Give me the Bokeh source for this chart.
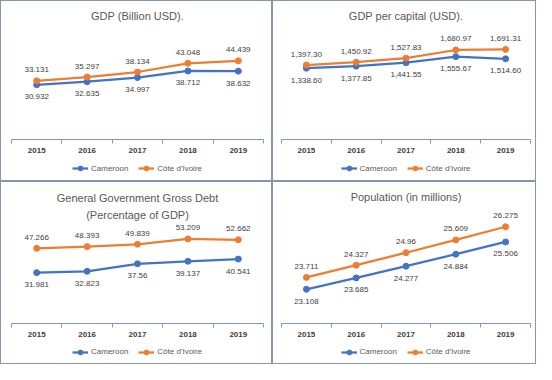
from bokeh.plotting import figure
from bokeh.layouts import column, row
from bokeh.models import FixedTicker, Legend, LegendItem, Range1d, Title
from bokeh.embed import file_html
from bokeh.resources import INLINE

years = ["2015", "2016", "2017", "2018", "2019"]
countries = ["Cameroon", "Côte d'Ivoire"]

gdp_cmr = [30.932, 32.635, 34.997, 38.712, 38.632]
gdp_civ = [33.131, 35.297, 38.134, 43.048, 44.439]
gdppc_cmr = [1338.60, 1377.85, 1441.55, 1555.67, 1514.60]
gdppc_civ = [1397.30, 1450.92, 1527.83, 1680.97, 1691.31]
debt_cmr = [31.981, 32.823, 37.56, 39.137, 40.541]
debt_civ = [47.266, 48.393, 49.839, 53.209, 52.662]
pop_cmr = [23.108, 23.685, 24.277, 24.884, 25.506]
pop_civ = [23.711, 24.327, 24.96, 25.609, 26.275]

BLUE = "#4472C4"
ORANGE = "#ED7D31"
BORDER = "#8497b0"
AXIS = "#7f97c4"
COLORS = (BLUE, ORANGE)
NAN = float("nan")


def fmt_plain(v):
    return f"{v:g}"


def fmt_money(v):
    return f"{v:,.2f}"


def style_title(t, offset=0, standoff=None):
    t.align = "center"
    t.offset = offset
    t.text_font_size = "11px"
    t.text_font_style = "normal"
    t.text_color = "#595959"
    if standoff is not None:
        t.standoff = standoff


def make_legend_fig(width, height):
    lf = figure(width=width, height=height, output_backend="svg",
                toolbar_location=None, x_axis_location=None,
                y_axis_location=None, x_range=Range1d(0, 1),
                y_range=Range1d(0, 1), min_border=0, min_border_left=0,
                min_border_right=0, min_border_top=0, min_border_bottom=0)
    lf.xgrid.visible = False
    lf.ygrid.visible = False
    lf.outline_line_color = None
    lf.border_fill_color = None
    lf.background_fill_color = None
    items = []
    for color, name in zip(COLORS, countries):
        lr = lf.line([NAN], [NAN], line_color=color, line_width=2.25)
        sr = lf.scatter([NAN], [NAN], size=6, fill_color=color,
                        line_color=color)
        items.append(LegendItem(label=name, renderers=[lr, sr]))
    leg = Legend(items=items, orientation="horizontal", location="center",
                 margin=0, padding=0, spacing=10, glyph_width=16,
                 glyph_height=12, label_height=12, label_standoff=3,
                 label_text_font_size="8px", label_text_color="#595959",
                 border_line_color=None, background_fill_alpha=0)
    lf.add_layout(leg, "center")
    return lf


def make_panel(title_lines, cmr, civ, fmt, width, height, legend_h, top,
               bottom, left, right, y0, y1, title_offset=0):
    kw = {}
    if len(title_lines) == 1:
        kw["title"] = title_lines[0]
    p = figure(width=width, height=height - legend_h, output_backend="svg",
               toolbar_location=None, y_axis_location=None,
               x_range=Range1d(0, len(years)), y_range=Range1d(y0, y1),
               min_border_left=left, min_border_right=right,
               min_border_top=top, min_border_bottom=bottom, **kw)
    p.xgrid.visible = False
    p.ygrid.visible = False
    p.outline_line_color = None
    p.border_fill_color = None
    p.background_fill_color = None

    if len(title_lines) == 1:
        style_title(p.title, title_offset)
    else:
        # nearest the frame first, then the line above it
        for i, line in enumerate(reversed(title_lines)):
            t = Title(text=line)
            style_title(t, title_offset, standoff=(6 if i == 0 else 0))
            p.add_layout(t, "above")

    xs = [i + 0.5 for i in range(len(years))]
    ax = p.xaxis[0]
    ax.ticker = FixedTicker(ticks=xs, minor_ticks=list(range(len(years) + 1)))
    ax.major_label_overrides = {x: y for x, y in zip(xs, years)}
    ax.axis_line_color = AXIS
    ax.axis_line_width = 1
    ax.major_tick_line_color = None
    ax.major_tick_out = 0
    ax.major_tick_in = 0
    ax.minor_tick_line_color = AXIS
    ax.minor_tick_out = 4
    ax.minor_tick_in = 0
    ax.major_label_standoff = 4
    ax.major_label_text_font_size = "8px"
    ax.major_label_text_font_style = "bold"
    ax.major_label_text_color = "#404040"

    for vals, color, off in ((cmr, BLUE, 12), (civ, ORANGE, -11)):
        p.line(xs, vals, line_color=color, line_width=2.25)
        p.scatter(xs, vals, size=6, fill_color=color, line_color=color)
        p.text(xs, vals, text=[fmt(v) for v in vals], y_offset=off,
               text_align="center", text_baseline="middle",
               text_font_size="8px", text_color="#404040")

    lf = make_legend_fig(width, legend_h)
    return column(p, lf, spacing=0,
                  styles={"outline": f"1px solid {BORDER}",
                          "outline-offset": "-1px"})


c1 = make_panel(["GDP (Billion USD)."], gdp_cmr, gdp_civ, fmt_plain,
                272, 181, 26, 26, 14, 11, 9, 0, 63.85)
c2 = make_panel(["GDP per capital (USD)."], gdppc_cmr, gdppc_civ, fmt_money,
                264, 181, 26, 26, 14, 9, 6, 0, 2122)
c3 = make_panel(["General Government Gross Debt", "(Percentage of GDP)"],
                debt_cmr, debt_civ, fmt_plain, 272, 183, 25, 42, 14, 11, 9,
                0, 62.9, title_offset=-18)
c4 = make_panel(["Population (in millions)"], pop_cmr, pop_civ, fmt_plain,
                264, 183, 25, 26, 14, 9, 6, 21.375, 27.25)

layout = column(row(c1, c2, spacing=0), row(c3, c4, spacing=0), spacing=0)

open("out.html", "w").write(file_html(layout, INLINE))
